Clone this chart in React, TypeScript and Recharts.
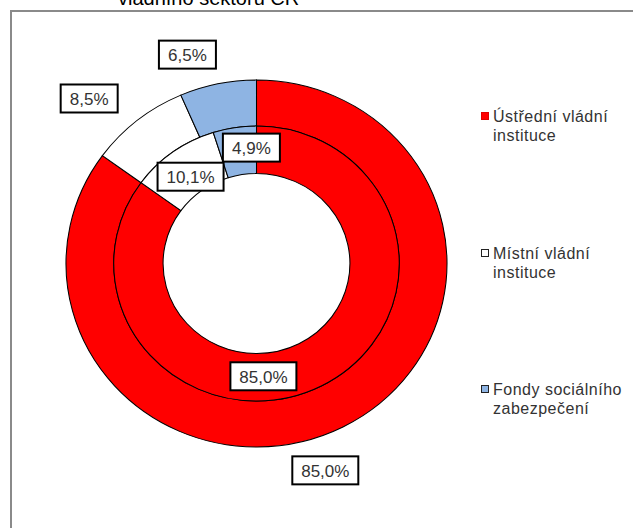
import React from 'react';
import { PieChart, Pie, Cell, Legend } from 'recharts';

const categories = ['Ústřední vládní instituce', 'Místní vládní instituce', 'Fondy sociálního zabezpečení'];
const outerValues = [85.0, 8.5, 6.5];
const innerValues = [85.0, 10.1, 4.9];
const colors = ['#FF0000', '#FFFFFF', '#8EB4E3'];
const titleLine = 'vládního sektoru ČR';

const outerData = categories.map((name, i) => ({ name, value: outerValues[i] }));
const innerData = categories.map((name, i) => ({ name, value: innerValues[i] }));

const FONT = '"Liberation Sans", Arial, sans-serif';
const RAD = Math.PI / 180;
const fmt = (v: number) => v.toFixed(1).replace('.', ',') + '%';

const CX = 256.5;
const CY = 263.5;

// label placement relative to each slice's mid angle
const outerLabelLayout = [
  { dA: -8.6, r: 218 },
  { dA: 6.7, r: 235 },
  { dA: 6.6, r: 220 },
];
const innerLabelLayout = [
  { dA: -23.5, r: 113 },
  { dA: 1.4, r: 109 },
  { dA: -6.3, r: 116 },
];

const textWidth = (t: string) => {
  let w = 0;
  for (const ch of t) {
    if (ch === ',') w += 4.7;
    else if (ch === '%') w += 15.1;
    else w += 9.45;
  }
  return w;
};

function makeLabel(layout: { dA: number; r: number }[]) {
  return (props: any) => {
    const { cx, cy, midAngle, index, value } = props;
    const l = layout[index];
    const a = (midAngle + l.dA) * RAD;
    const x = cx + l.r * Math.cos(a);
    const y = cy - l.r * Math.sin(a);
    const text = fmt(value);
    const w = Math.round(textWidth(text) + 18);
    const h = 28;
    return (
      <g key={`lbl-${index}`}>
        <rect x={x - w / 2} y={y - h / 2} width={w} height={h} fill="#fff" stroke="#000" strokeWidth={2} />
        <text
          x={x}
          y={y + 1}
          textAnchor="middle"
          dominantBaseline="central"
          fontSize={17}
          fill="#333"
          fontFamily={FONT}
        >
          {text}
        </text>
      </g>
    );
  };
}

const renderLegend = (props: any) => {
  const payload = props.payload || [];
  const seen = new Set<string>();
  const items = payload
    .filter((p: any) => {
      if (seen.has(p.value)) return false;
      seen.add(p.value);
      return true;
    })
    .sort((a: any, b: any) => categories.indexOf(a.value) - categories.indexOf(b.value));
  return (
    <div style={{ fontFamily: FONT, fontSize: 16, letterSpacing: 0.5, color: '#333', lineHeight: '19px' }}>
      {items.map((p: any, i: number) => {
        const idx = categories.indexOf(p.value);
        const c = idx >= 0 ? colors[idx] : p.color;
        return (
          <div
            key={i}
            style={{
              position: 'relative',
              paddingLeft: 12,
              width: 140,
              height: 38,
              marginBottom: i < items.length - 1 ? 98.5 : 0,
            }}
          >
            <span
              style={{
                position: 'absolute',
                left: 0,
                top: 5,
                width: 8,
                height: 8,
                boxSizing: 'border-box',
                background: c,
                border: idx === 0 ? '1px solid #e00000' : '1px solid #222',
              }}
            />
            {p.value}
          </div>
        );
      })}
    </div>
  );
};

const sectorCss = `
.recharts-pie-sector {
  transform-box: view-box;
  transform-origin: ${CX}px ${CY}px;
  transform: scaleX(1.038);
}
`;

export default function App() {
  return (
    <div
      style={{
        position: 'absolute',
        left: 0,
        top: 0,
        width: 633,
        height: 528,
        overflow: 'hidden',
        background: '#fff',
      }}
    >
      <style>{sectorCss}</style>
      <div
        style={{
          position: 'absolute',
          left: 10,
          top: 10,
          width: 700,
          height: 700,
          border: '2px solid #8a8a8a',
        }}
      />
      <div
        style={{
          position: 'absolute',
          left: 118,
          top: -13,
          fontFamily: FONT,
          fontSize: 20,
          color: '#000',
          whiteSpace: 'nowrap',
        }}
      >
        {titleLine}
      </div>
      <div style={{ position: 'absolute', left: 0, top: 0 }}>
        <PieChart width={633} height={528} margin={{ top: 0, right: 0, bottom: 0, left: 0 }}>
          <Pie
            data={outerData}
            dataKey="value"
            nameKey="name"
            cx={CX}
            cy={CY}
            innerRadius={137.5}
            outerRadius={183.5}
            startAngle={90}
            endAngle={-270}
            stroke="#000"
            strokeWidth={1}
            isAnimationActive={false}
            labelLine={false}
            label={makeLabel(outerLabelLayout)}
          >
            {outerData.map((d, i) => (
              <Cell key={d.name} fill={colors[i]} />
            ))}
          </Pie>
          <Pie
            data={innerData}
            dataKey="value"
            nameKey="name"
            cx={CX}
            cy={CY}
            innerRadius={90}
            outerRadius={137.5}
            startAngle={90}
            endAngle={-270}
            stroke="#000"
            strokeWidth={1}
            isAnimationActive={false}
            labelLine={false}
            legendType="none"
            label={makeLabel(innerLabelLayout)}
          >
            {innerData.map((d, i) => (
              <Cell key={d.name} fill={colors[i]} />
            ))}
          </Pie>
          <Legend
            content={renderLegend}
            wrapperStyle={{ position: 'absolute', left: 481, top: 107, width: 152 }}
          />
        </PieChart>
      </div>
    </div>
  );
}
